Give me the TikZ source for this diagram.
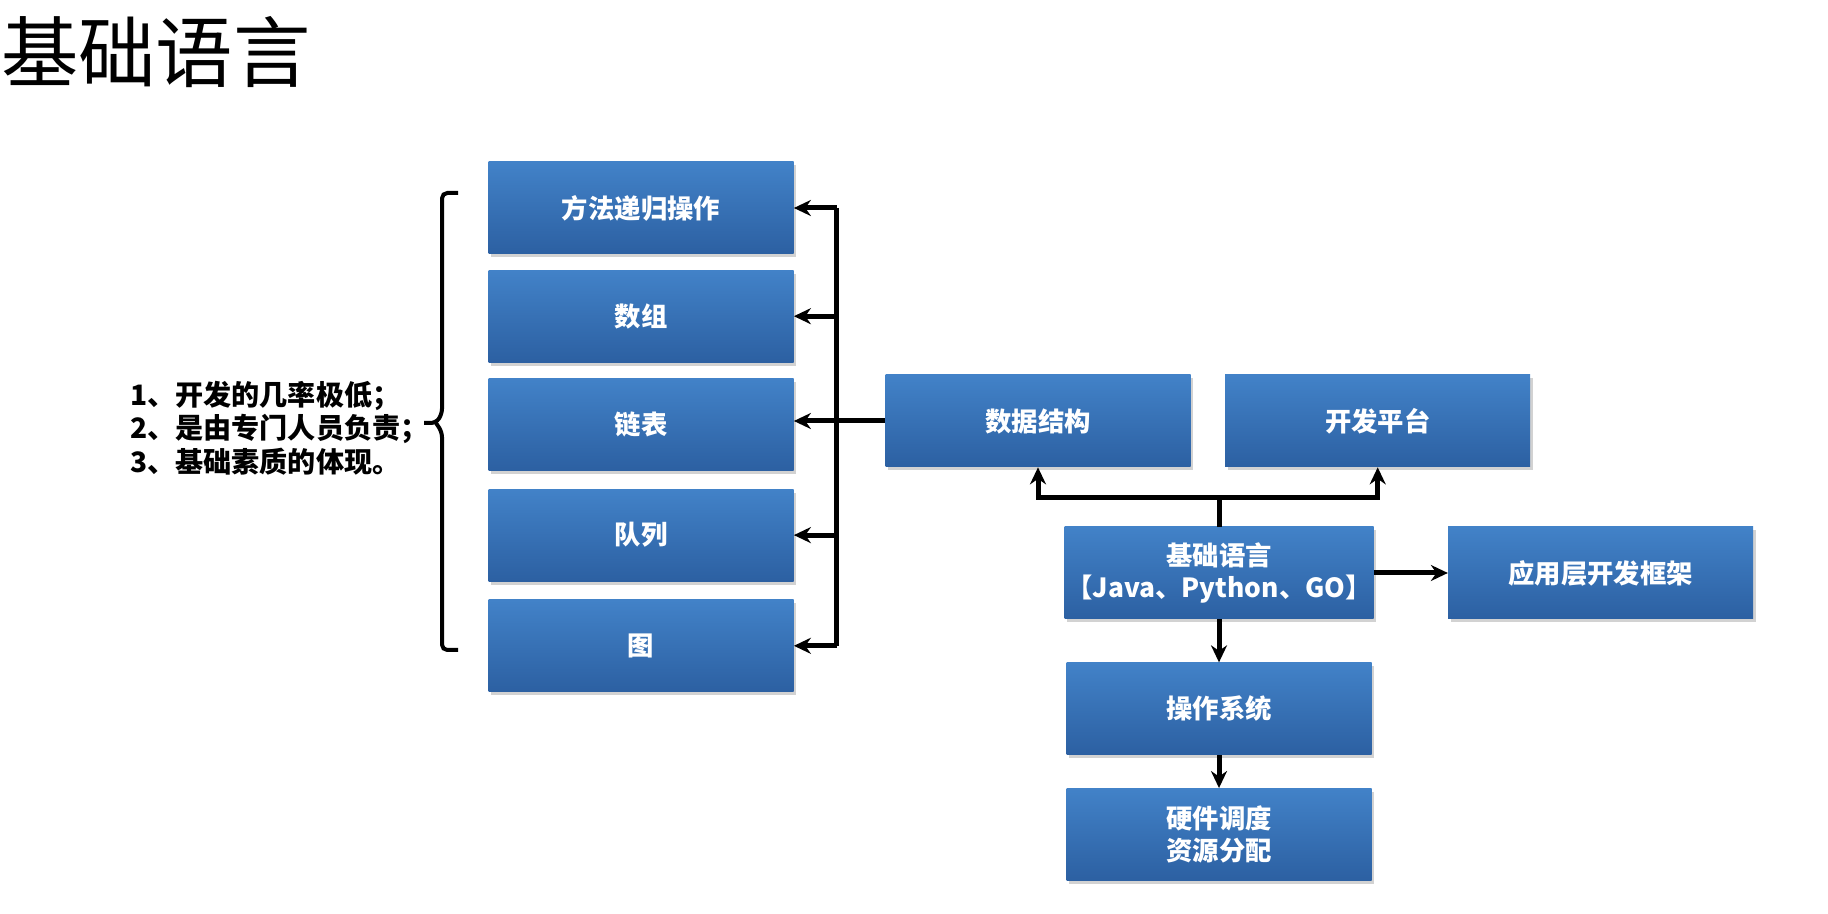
\documentclass[tikz,border=0pt]{standalone}
\usepackage{fontspec}
\setmainfont{Noto Sans CJK SC}
\usepackage{xcolor}
\usepackage{tikz}
\usetikzlibrary{arrows.meta, positioning, calc, shadows}
\definecolor{boxtop}{RGB}{66,130,200}
\definecolor{boxbot}{RGB}{44,96,162}
\tikzset{
  blk/.style={rectangle, draw=none, top color=boxtop, bottom color=boxbot,
    drop shadow={shadow xshift=.5mm, shadow yshift=-.7mm, opacity=.35},
    minimum width=61mm, minimum height=18.4mm, inner sep=1pt,
    align=center, text=white, font=\fontsize{15}{18}\selectfont\bfseries},
  arr/.style={-{Stealth[length=3.4mm, width=3.2mm]}, draw=black, line width=1mm},
  lin/.style={draw=black, line width=1mm},
  note/.style={align=left, font=\fontsize{16}{19}\selectfont\bfseries},
}

\begin{document}
\begin{tikzpicture}[x=.2mm, y=.2mm, node distance=3.1mm]
    \useasboundingbox[fill=white] (0,0) rectangle (1828,-914);

    \node[font=\fontsize{44}{48}\selectfont] (titel) at (156,-52) {基础语言};

    % linke Spalte
    \node[blk] (fangfa)   at (641,-208)       {方法递归操作};
    \node[blk] (shuzu)    [below=of fangfa]   {数组};
    \node[blk] (lianbiao) [below=of shuzu]    {链表};
    \node[blk] (duilie)   [below=3.6mm of lianbiao] {队列};
    \node[blk] (tu)       [below=3.6mm of duilie]   {图};

    % rechte Seite
    \node[blk] (shuju)    at (1038,-421)                      {数据结构};
    \node[blk] (pingtai)  [right=6.8mm of shuju]             {开发平台};
    \node[blk] (jichu)    at (1219,-573)                      {基础语言\\【Java、Python、GO】};
    \node[blk] (yingyong) [right=14.8mm of jichu]            {应用层开发框架};
    \node[blk] (caozuo)   [below=8.6mm of jichu]             {操作系统};
    \node[blk] (yingjian) [below=6.6mm of caozuo]            {硬件调度\\资源分配};

    \node[note, anchor=west] (hinweis) at (124,-428) {1、开发的几率极低；\\2、是由专门人员负责；\\3、基础素质的体现。};

    % Klammer
    \draw[line width=.8mm, rounded corners=3pt]
      (458,-193) -- (442,-193) -- (442,-414) -- (436,-423) -- (424,-423)
      (436,-423) -- (442,-432) -- (442,-650) -- (458,-650);

    % Verbindungen
    \coordinate (stamm) at ($(fangfa.east)+(43,0)$);
    \draw[lin] (stamm) -- ($(tu.east)+(43,0)$);
    \draw[arr] (stamm) -- (fangfa.east);
    \draw[arr] ($(shuzu.east)+(43,0)$)    -- (shuzu.east);
    \draw[arr] ($(duilie.east)+(43,0)$)   -- (duilie.east);
    \draw[arr] ($(tu.east)+(43,0)$)       -- (tu.east);
    \draw[arr] (shuju.west) -- (lianbiao.east |- shuju.west);

    \coordinate (gabel) at ($(jichu.north)+(0,29)$);
    \draw[lin] (jichu.north) -- (gabel);
    \draw[arr] (gabel) -| (shuju.south);
    \draw[arr] (gabel) -| (pingtai.south);
    \draw[arr] (jichu) -- (yingyong);
    \draw[arr] (jichu) -- (caozuo);
    \draw[arr] (caozuo) -- (yingjian);
  \end{tikzpicture}
\end{document}
